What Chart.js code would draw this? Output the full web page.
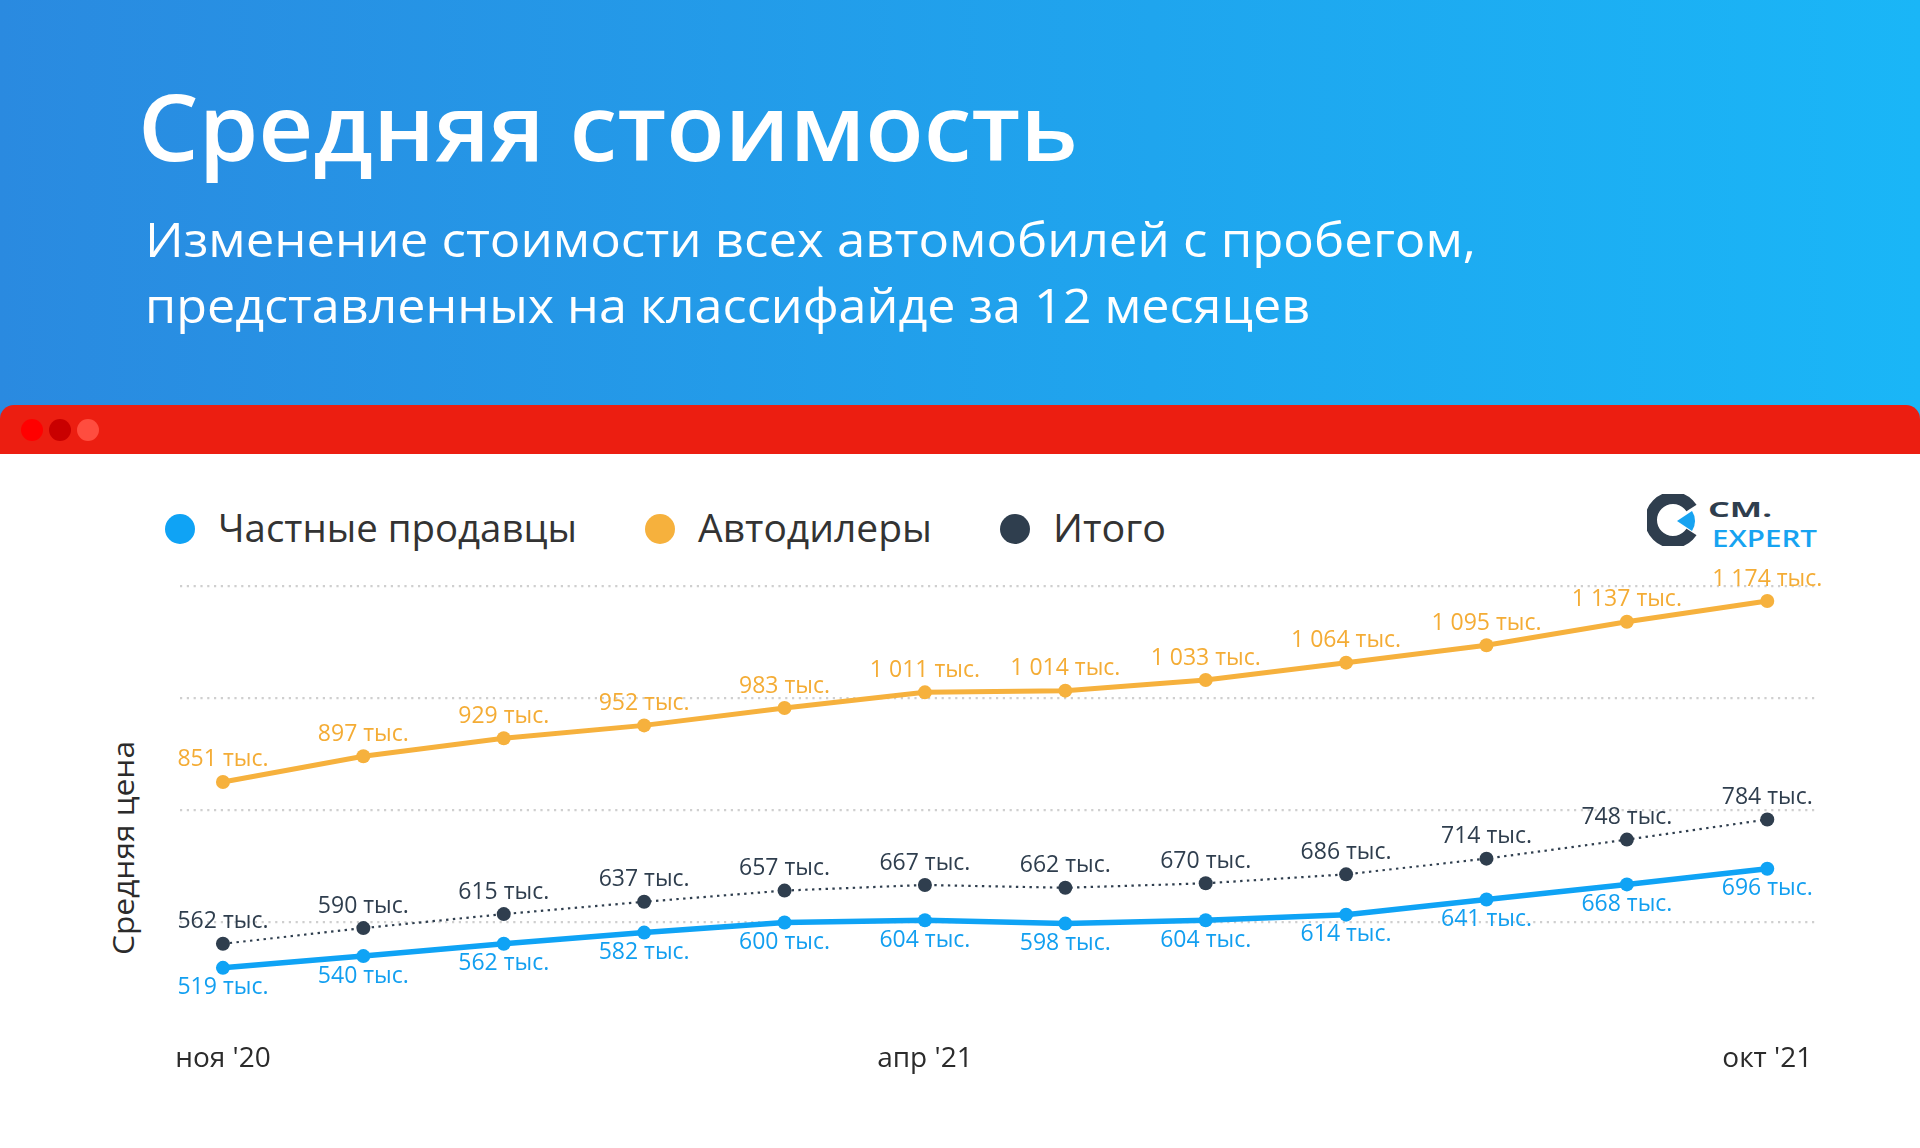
<!DOCTYPE html>
<html lang="ru">
<head>
<meta charset="utf-8">
<script src="https://cdn.jsdelivr.net/npm/chart.js@4.4.0/dist/chart.umd.min.js"></script>
<style>
  html, body { margin: 0; padding: 0; }
  body { width: 1920px; height: 1148px; position: relative; overflow: hidden; background: #ffffff; font-family: 'Open Sans', sans-serif; }
  #head { position: absolute; left: 0; top: 0; width: 1920px; height: 430px; background: linear-gradient(90deg, #2a8ae0 0%, #1fa5ee 60%, #1ab6f7 100%); }
  #bar { position: absolute; left: 0; top: 405px; width: 1920px; height: 49px; background: #ec1e11; border-radius: 14px 14px 0 0; }
  .dot { position: absolute; top: 419px; width: 22px; height: 22px; border-radius: 50%; }
  #panel { position: absolute; left: 0; top: 454px; width: 1920px; height: 694px; background: #ffffff; }
  #overlay { position: absolute; left: 0; top: 0; }
  #chart { position: absolute; left: 0; top: 0; }
</style>
</head>
<body>
<div id="head"></div>
<div id="bar"></div>
<div class="dot" style="left:21px;background:#ff0000"></div>
<div class="dot" style="left:49px;background:#c90000"></div>
<div class="dot" style="left:77px;background:#ff4d3f"></div>
<div id="panel"></div>

<svg id="overlay" width="1920" height="1148" xmlns="http://www.w3.org/2000/svg">
  <text x="138" y="161" font-family="Open Sans" font-weight="600" font-size="92" fill="#ffffff" textLength="940" lengthAdjust="spacingAndGlyphs">Средняя стоимость</text>
  <text x="145" y="257" font-family="Open Sans" font-weight="400" font-size="48" fill="#ffffff" textLength="1331" lengthAdjust="spacingAndGlyphs">Изменение стоимости всех автомобилей с пробегом,</text>
  <text x="145" y="323" font-family="Open Sans" font-weight="400" font-size="48" fill="#ffffff" textLength="1165" lengthAdjust="spacingAndGlyphs">представленных на классифайде за 12 месяцев</text>

  <g id="legend" font-family="Open Sans" font-size="38" fill="#333333">
    <circle cx="180" cy="529" r="15" fill="#0fa3f5"/>
    <text x="218" y="542" textLength="359" lengthAdjust="spacingAndGlyphs">Частные продавцы</text>
    <circle cx="660" cy="529" r="15" fill="#f6b13d"/>
    <text x="698" y="542" textLength="234" lengthAdjust="spacingAndGlyphs">Автодилеры</text>
    <circle cx="1015" cy="529" r="15" fill="#2f3e4e"/>
    <text x="1053" y="542" textLength="113" lengthAdjust="spacingAndGlyphs">Итого</text>
  </g>

  <text transform="translate(134,848) rotate(-90)" text-anchor="middle" font-family="Open Sans" font-size="30" fill="#2b2b2b" textLength="214" lengthAdjust="spacingAndGlyphs">Средняя цена</text>

  <g id="logo" transform="translate(1640,488)">
    <defs>
      <mask id="ringMask">
        <rect x="0" y="0" width="80" height="70" fill="#fff"/>
        <path d="M33 32 L70 8 L70 56 Z" fill="#000"/>
      </mask>
    </defs>
    <circle cx="33" cy="32" r="22" fill="none" stroke="#2f3e4e" stroke-width="12" mask="url(#ringMask)"/>
    <path d="M37 33 L52 23 A18 18 0 0 1 52 43 Z" fill="#17a3f1"/>
    <text x="68" y="29" font-family="Open Sans" font-weight="700" font-size="21" fill="#2f3e4e" textLength="64" lengthAdjust="spacingAndGlyphs">CM.</text>
    <text x="72" y="59" font-family="Open Sans" font-weight="600" font-size="23" fill="#17a3f1" textLength="105" lengthAdjust="spacingAndGlyphs">EXPERT</text>
  </g>
</svg>

<canvas id="chart" width="1920" height="1148"></canvas>

<script>
// ---- data ----
const months = ["ноя '20", "дек '20", "янв '21", "фев '21", "мар '21", "апр '21", "май '21", "июн '21", "июл '21", "авг '21", "сен '21", "окт '21"];
const shownTickIndices = [0, 5, 11];
const privateSellers = [519, 540, 562, 582, 600, 604, 598, 604, 614, 641, 668, 696];
const dealers = [851, 897, 929, 952, 983, 1011, 1014, 1033, 1064, 1095, 1137, 1174];
const total = [562, 590, 615, 637, 657, 667, 662, 670, 686, 714, 748, 784];
const seriesNames = ['Частные продавцы', 'Автодилеры', 'Итого'];
const gridValues = [600, 800, 1000, 1200];

function toPoints(arr) { return arr.map((v, i) => ({ x: i, y: v })); }
function fmt(v) {
  const s = String(v);
  return (s.length > 3 ? s.slice(0, s.length - 3) + ' ' + s.slice(-3) : s) + ' тыс.';
}

const COLORS = { blue: '#0fa3f5', orange: '#f6b13d', dark: '#2f3e4e' };
const LABEL_COLORS = { blue: '#129ff0', orange: '#f4ac35', dark: '#2f3e4e' };

const valueLabels = {
  id: 'valueLabels',
  afterDatasetsDraw(chart) {
    const ctx = chart.ctx;
    ctx.save();
    ctx.font = '400 23px "Open Sans", sans-serif';
    ctx.textAlign = 'center';
    ctx.textBaseline = 'middle';
    chart.data.datasets.forEach((ds, di) => {
      const meta = chart.getDatasetMeta(di);
      ctx.fillStyle = ds.labelColor;
      meta.data.forEach((pt, i) => {
        const v = ds.data[i].y;
        const y = ds.labelPos === 'below' ? pt.y + 20 : pt.y - 22;
        ctx.fillText(fmt(v), pt.x, y);
      });
    });
    ctx.restore();
  }
};

Chart.defaults.font.family = "'Open Sans', sans-serif";

new Chart(document.getElementById('chart'), {
  type: 'line',
  data: {
    datasets: [
      {
        label: seriesNames[1], data: toPoints(dealers),
        borderColor: COLORS.orange, backgroundColor: COLORS.orange,
        borderWidth: 5, pointRadius: 7, pointBorderWidth: 0, pointBackgroundColor: COLORS.orange,
        labelColor: LABEL_COLORS.orange, labelPos: 'above', tension: 0
      },
      {
        label: seriesNames[2], data: toPoints(total),
        borderColor: COLORS.dark, backgroundColor: COLORS.dark,
        borderWidth: 2.2, borderDash: [2.4, 4.4], pointRadius: 7, pointBorderWidth: 0, pointBackgroundColor: COLORS.dark,
        labelColor: LABEL_COLORS.dark, labelPos: 'above', tension: 0
      },
      {
        label: seriesNames[0], data: toPoints(privateSellers),
        borderColor: COLORS.blue, backgroundColor: COLORS.blue,
        borderWidth: 5.5, pointRadius: 7, pointBorderWidth: 0, pointBackgroundColor: COLORS.blue,
        labelColor: LABEL_COLORS.blue, labelPos: 'below', tension: 0
      }
    ]
  },
  options: {
    responsive: false,
    animation: false,
    devicePixelRatio: 1,
    layout: { padding: { top: 586.5, right: 105, left: 0, bottom: 0 } },
    plugins: { legend: { display: false }, tooltip: { enabled: false } },
    scales: {
      x: {
        type: 'linear',
        min: -0.306, max: 11.34,
        grid: { display: false, drawTicks: false },
        border: { display: false },
        afterBuildTicks(scale) { scale.ticks = shownTickIndices.map(i => ({ value: i })); },
        afterFit(scale) { scale.height = 1148 - 1034.5; },
        ticks: {
          autoSkip: false, maxRotation: 0, padding: 8,
          color: '#2b2b2b', font: { size: 28 },
          callback: (v) => months[v] ?? ''
        }
      },
      y: {
        min: 400, max: 1200,
        afterBuildTicks(scale) { scale.ticks = [400].concat(gridValues).map(v => ({ value: v })); },
        afterFit(scale) { scale.width = 180; },
        ticks: { display: false },
        grid: {
          drawTicks: false, lineWidth: 2.2,
          color: (c) => (c.tick && gridValues.includes(c.tick.value)) ? '#cfcfcf' : 'rgba(0,0,0,0)'
        },
        border: { display: false, dash: [2.2, 4.6] }
      }
    }
  },
  plugins: [valueLabels]
});
</script>
</body>
</html>
